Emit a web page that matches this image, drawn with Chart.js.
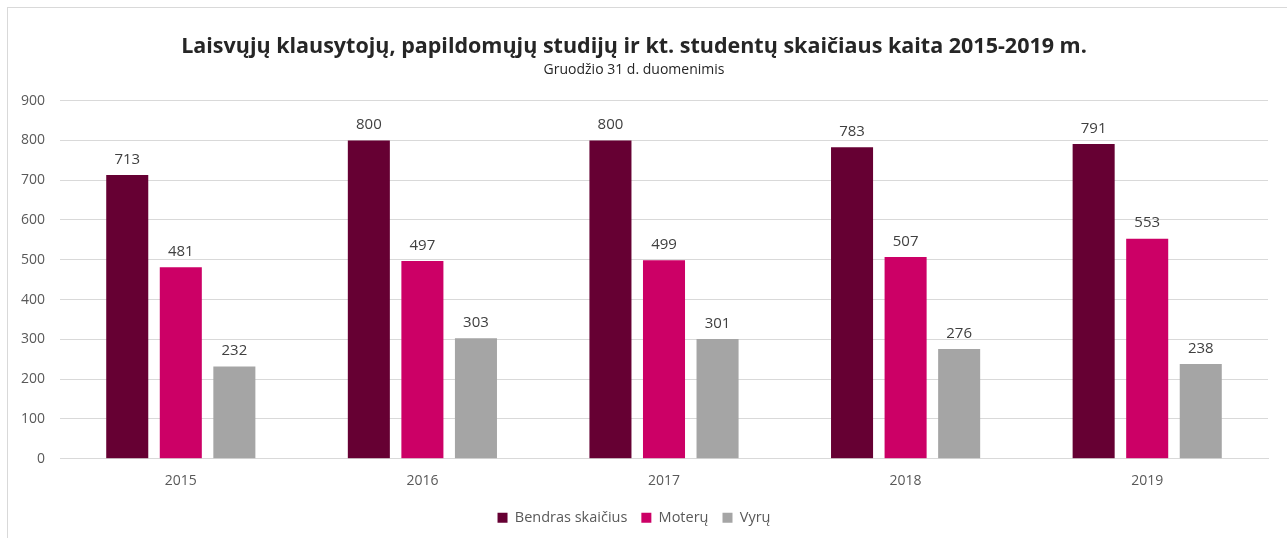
<!DOCTYPE html>
<html><head><meta charset="utf-8">
<script src="https://cdn.jsdelivr.net/npm/chart.js@4"></script>
<style>
html,body{margin:0;padding:0;background:#fff;overflow:hidden}
#wrap{position:relative;width:1287px;height:538px}
#frame{position:absolute;left:7px;top:7px;width:1300px;height:560px;border:1px solid #d9d9d9;box-sizing:border-box;pointer-events:none}
canvas{position:absolute;left:0;top:0}
</style></head><body>
<div id="wrap"><canvas id="c" width="1287" height="538"></canvas><div id="frame"></div></div>
<script>
const categories = ['2015','2016','2017','2018','2019'];
const bendras = [713, 800, 800, 783, 791];
const moteru = [481, 497, 499, 507, 553];
const vyru = [232, 303, 301, 276, 238];
const seriesNames = ['Bendras skaičius','Moterų','Vyrų'];
const yTicks = [0,100,200,300,400,500,600,700,800,900];

const FONT = "'Open Sans', 'Noto Sans', sans-serif";

const valueLabels = {
  id:'valueLabels',
  afterDatasetsDraw(chart){
    const ctx = chart.ctx;
    ctx.save();
    ctx.font = '15px ' + FONT;
    ctx.fillStyle = '#404040';
    ctx.textAlign = 'center';
    ctx.textBaseline = 'bottom';
    chart.data.datasets.forEach((ds,i)=>{
      chart.getDatasetMeta(i).data.forEach((bar,j)=>{
        ctx.fillText(String(ds.data[j]), bar.x, bar.y - 8);
      });
    });
    ctx.restore();
  }
};

new Chart(document.getElementById('c'), {
  type:'bar',
  data:{
    labels:categories,
    datasets:[
      {label:seriesNames[0], data:bendras, backgroundColor:'#660033'},
      {label:seriesNames[1], data:moteru, backgroundColor:'#CC0066'},
      {label:seriesNames[2], data:vyru, backgroundColor:'#A5A5A5'}
    ]
  },
  options:{
    responsive:false,
    animation:false,
    devicePixelRatio:1,
    layout:{padding:{left:0,right:19,top:34,bottom:3}},
    datasets:{bar:{categoryPercentage:0.665, barPercentage:0.785}},
    plugins:{
      title:{display:true, text:'Laisvųjų klausytojų, papildomųjų studijų ir kt. studentų skaičiaus kaita 2015-2019 m.',
        color:'#262626', font:{family:FONT, size:21.5, weight:'bold'}, padding:{top:0,bottom:2}},
      subtitle:{display:true, text:'Gruodžio 31 d. duomenimis', color:'#262626',
        font:{family:FONT, size:14}, padding:{top:0,bottom:22}},
      legend:{position:'bottom', labels:{boxWidth:10, boxHeight:10, color:'#595959',
        font:{family:FONT, size:14.5}, padding:14}},
      tooltip:{enabled:false}
    },
    scales:{
      x:{grid:{display:false}, border:{display:true,color:'#d9d9d9'},
        afterFit(s){s.height += 1;},
        ticks:{color:'#595959', font:{family:FONT, size:14}, padding:6}},
      y:{min:0,max:900, afterFit(s){s.width=60;},
        afterBuildTicks(s){s.ticks = yTicks.map(v=>({value:v}));},
        grid:{color:'#d9d9d9', drawTicks:false}, border:{display:false},
        ticks:{color:'#595959', font:{family:FONT, size:14}, padding:15}}
    }
  },
  plugins:[valueLabels]
});
</script>
</body></html>
